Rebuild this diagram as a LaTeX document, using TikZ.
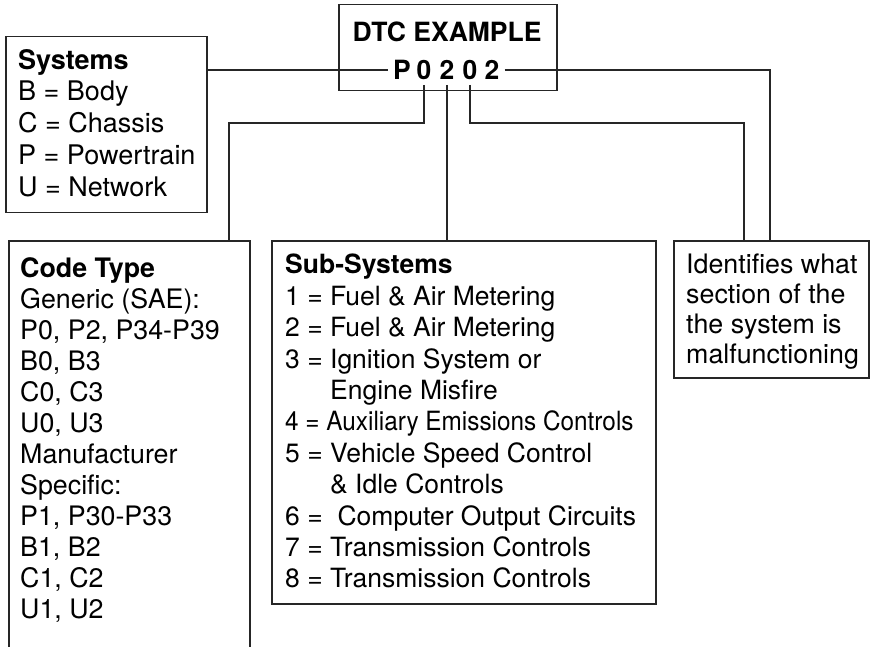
\documentclass[tikz,border=0pt]{standalone}
\usepackage{fontspec}
\usepackage{graphicx}
\setmainfont{TeX Gyre Heros}
\begin{document}
\begin{tikzpicture}[x=1pt,y=1pt,
  boxline/.style={draw=black!85, line width=1.5pt},
  conn/.style={draw=black!85, line width=1.4pt},
  panel/.style={boxline, rectangle, inner sep=0pt, anchor=north west},
  txt/.style={anchor=north west, inner sep=0pt, align=left},
  digit/.style={inner sep=5pt, font=\fontsize{26.5}{30}\selectfont\bfseries}
]
\useasboundingbox (0,0) rectangle (870,-647);
\clip (0,0) rectangle (870,-647);

% title box
\node[panel, minimum width=218pt, minimum height=86pt] (dtc) at (338,-4) {};
\node[font=\fontsize{26.5}{30}\selectfont\bfseries, inner sep=0pt] (dtctitle) at (447,-32) {DTC EXAMPLE};
\node[digit] (d1) at (402,-70) {P};
\node[digit] (d2) at (424,-70) {0};
\node[digit] (d3) at (447,-70) {2};
\node[digit] (d4) at (470,-70) {0};
\node[digit] (d5) at (492,-70) {2};

% systems
\node[panel, minimum width=201pt, minimum height=176pt] (sys) at (5,-36) {};
\node[txt, font=\fontsize{27}{31.7}\selectfont] (systxt) at (18,-49)
  {\textbf{Systems}\\B = Body\\C = Chassis\\P = Powertrain\\U = Network};

% code type
\node[panel, minimum width=241pt, minimum height=440pt] (code) at (8,-240) {};
\node[txt, font=\fontsize{26.8}{31}\selectfont] (codetxt) at (20,-257)
  {\textbf{Code Type}\\Generic (SAE):\\P0, P2, P34-P39\\B0, B3\\C0, C3\\U0, U3\\Manufacturer\\Specific:\\P1, P30-P33\\B1, B2\\C1, C2\\U1, U2};

% sub-systems
\node[panel, minimum width=384pt, minimum height=363pt] (sub) at (271,-240) {};
\node[txt, font=\fontsize{26.5}{31.4}\selectfont] (subtxt) at (285,-254)
  {\textbf{Sub-Systems}\\
   1 = Fuel \& Air Metering\\
   2 = Fuel \& Air Metering\\
   3 = Ignition System or\\
   \hphantom{3 = }Engine Misfire\\
   \scalebox{0.918}[1]{4 = Auxiliary Emissions Controls}\\
   5 = Vehicle Speed Control\\
   \hphantom{5 = }\& Idle Controls\\
   6 = \ Computer Output Circuits\\
   7 = Transmission Controls\\
   8 = Transmission Controls};

% identifies
\node[panel, minimum width=195pt, minimum height=137pt] (ident) at (673,-240) {};
\node[txt, font=\fontsize{26.8}{30}\selectfont] (identtxt) at (686,-254)
  {Identifies what\\section of the\\the system is\\malfunctioning};

% connectors
\coordinate (cL) at (229,-123);
\coordinate (cR) at (744,-123);
\coordinate (cRR) at (770,-70);
\draw[conn] (d1.west) -- (d1.west -| sys.east);
\draw[conn] (d2.south) |- (cL) -- (cL |- code.north);
\draw[conn] (d3.south) -- (d3.south |- sub.north);
\draw[conn] (d4.south) |- (cR) -- (cR |- ident.north);
\draw[conn] (d5.east) -- (cRR) -- (cRR |- ident.north);
\end{tikzpicture}
\end{document}
